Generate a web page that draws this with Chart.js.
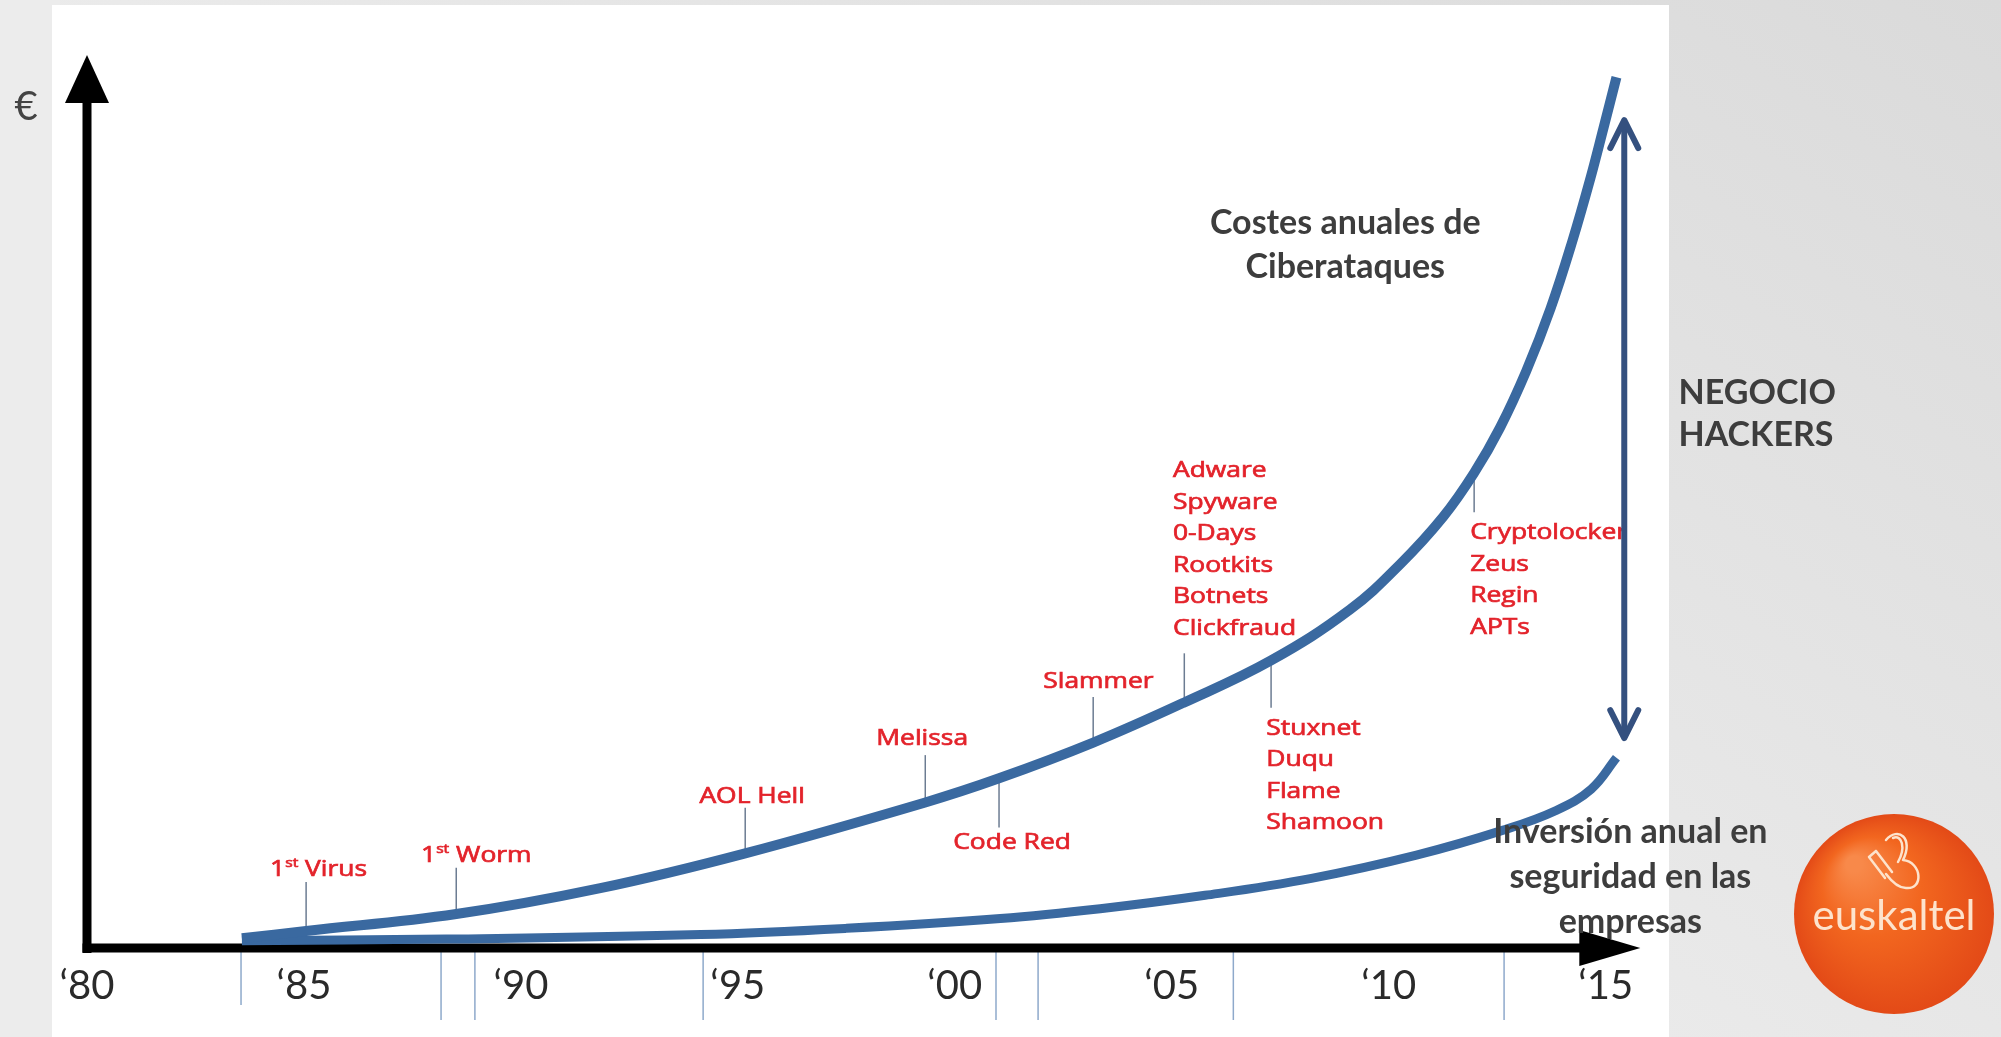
<!DOCTYPE html>
<html>
<head>
<meta charset="utf-8">
<script src="https://cdn.jsdelivr.net/npm/chart.js@4.4.1/dist/chart.umd.min.js"></script>
<style>
  html, body { margin: 0; padding: 0; background: #e8e8e8; }
  #wrap { width: 2001px; height: 1037px; }
</style>
</head>
<body>
<div id="wrap"><canvas id="chart" width="2001" height="1037"></canvas></div>
<script>
// x axis: years, tick labels
const tickYears = [1980, 1985, 1990, 1995, 2000, 2005, 2010, 2015];
const tickLabels = ['‘80', '‘85', '‘90', '‘95', '‘00', '‘05', '‘10', '‘15'];

// Costes anuales de Ciberataques (relative €)
const costYears = [1983.57, 1985.05, 1988.51, 1991.83, 1995.17, 1999.32, 2001.02, 2003.19, 2005.29, 2007.29,
  2009.11, 2010.27, 2011.26, 2011.97, 2012.57, 2013.17, 2013.73, 2014.23, 2014.65, 2014.95, 2015.25];
const costValues = [1.1, 1.9, 3.8, 6.7, 10.6, 16.3, 19.0, 23.0, 27.5, 32.2,
  37.9, 43.0, 48.3, 53.2, 58.3, 64.6, 71.6, 79.1, 86.2, 91.8, 97.5];

// Inversión anual en seguridad en las empresas (relative €)
const investYears = [1983.57, 1988.28, 1994.15, 1997.5, 2001.05, 2003.35, 2005.77, 2008.22, 2010.64, 2012.64, 2013.86, 2014.67, 2015.25];
const investValues = [0.8, 1.0, 1.5, 2.2, 3.3, 4.4, 5.9, 7.8, 10.4, 13.2, 15.4, 17.8, 21.3];

// hitos sobre la curva de costes
const eventYears = [1985.05, 1988.51, 1995.17, 1999.32, 2001.02, 2003.19, 2005.29, 2007.29, 2011.97];
const eventLabels = [
  ['1st Virus'], ['1st Worm'], ['AOL Hell'], ['Melissa'], ['Code Red'], ['Slammer'],
  ['Adware', 'Spyware', '0-Days', 'Rootkits', 'Botnets', 'Clickfraud'],
  ['Stuxnet', 'Duqu', 'Flame', 'Shamoon'],
  ['Cryptolocker', 'Zeus', 'Regin', 'APTs']
];

// thin marks under the time axis
const markYears = [1983.55, 1988.16, 1988.94, 1994.2, 2000.95, 2001.92, 2006.42, 2012.66];

// where each label sits (data units): leader from `from` to `to`, text anchor lx/ly
const eventLayout = [
  { from: 1.6, to: 7.4, lx: 1984.22, ly: 8.73, align: 'left' },
  { from: 3.3, to: 9.0, lx: 1987.70, ly: 10.3, align: 'left' },
  { from: 10.2, to: 15.7, lx: 1995.33, ly: 16.9, align: 'center' },
  { from: 15.9, to: 21.6, lx: 1999.25, ly: 23.4, align: 'center' },
  { from: 19.4, to: 13.5, lx: 2001.32, ly: 11.76, align: 'center' },
  { from: 22.6, to: 28.1, lx: 2003.31, ly: 29.8, align: 'center' },
  { from: 27.1, to: 33.0, lx: 2005.03, ly: 53.4, align: 'left' },
  { from: 32.6, to: 26.9, lx: 2007.18, ly: 24.6, align: 'left' },
  { from: 53.6, to: 48.8, lx: 2011.88, ly: 46.5, align: 'left' }
];

const axisEnd = 2015.8;
const gapArrow = { year: 2015.43, top: 92.7, bottom: 23.5 };

const curveColor = '#3a69a0';
const redColor = '#e3232b';
const greyText = '#3d3d3d';
const redFont = '22px "Open Sans"';
const supFont = '13px "Open Sans"';

function drawRed(ctx, text, x, y, align) {
  ctx.save();
  ctx.fillStyle = redColor;
  ctx.strokeStyle = redColor;
  ctx.lineWidth = 0.7;
  ctx.textBaseline = 'middle';
  ctx.translate(x, y);
  ctx.scale(1.2, 1);
  let parts;
  if (text.startsWith('1st ')) {
    parts = [['1', 0], ['st', 1], [text.slice(3), 0]];
  } else {
    parts = [[text, 0]];
  }
  const widthOf = (p) => {
    ctx.font = p[1] ? supFont : redFont;
    return ctx.measureText(p[0]).width;
  };
  const total = parts.reduce((s, p) => s + widthOf(p), 0);
  let cx = align === 'center' ? -total / 2 : 0;
  ctx.textAlign = 'left';
  parts.forEach(p => {
    ctx.font = p[1] ? supFont : redFont;
    ctx.fillText(p[0], cx, p[1] ? -7 : 0);
    ctx.strokeText(p[0], cx, p[1] ? -7 : 0);
    cx += ctx.measureText(p[0]).width;
  });
  ctx.restore();
}

const slidePlugin = {
  id: 'slide',
  beforeDraw(chart) {
    const ctx = chart.ctx;
    const W = chart.width, H = chart.height;
    ctx.save();
    const g = ctx.createLinearGradient(W, 0, W - 700, H);
    g.addColorStop(0, '#dadada');
    g.addColorStop(1, '#ededed');
    ctx.fillStyle = g;
    ctx.fillRect(0, 0, W, H);
    ctx.fillStyle = '#ececec';
    ctx.fillRect(0, 0, 60, H);
    ctx.fillStyle = '#ffffff';
    ctx.fillRect(52, 5, 1617, H - 5);
    ctx.restore();
  },
  beforeDatasetsDraw(chart) {
    const ctx = chart.ctx;
    const a = chart.chartArea;
    const xs = chart.scales.x, ys = chart.scales.y;
    ctx.save();
    // marks below the axis
    ctx.strokeStyle = '#8ea9cb';
    ctx.lineWidth = 1.5;
    markYears.forEach((yr, i) => {
      const x = xs.getPixelForValue(yr);
      ctx.beginPath();
      ctx.moveTo(x, a.bottom + 4);
      ctx.lineTo(x, i === 0 ? a.bottom + 57 : a.bottom + 72);
      ctx.stroke();
    });
    // leader lines
    ctx.strokeStyle = '#6c7c92';
    ctx.lineWidth = 1.5;
    eventYears.forEach((yr, i) => {
      const x = xs.getPixelForValue(yr);
      ctx.beginPath();
      ctx.moveTo(x, ys.getPixelForValue(eventLayout[i].from));
      ctx.lineTo(x, ys.getPixelForValue(eventLayout[i].to));
      ctx.stroke();
    });
    // axes with arrow heads
    ctx.fillStyle = '#000';
    ctx.fillRect(a.left - 4.5, a.top + 40, 9, a.bottom - a.top - 35);
    ctx.beginPath();
    ctx.moveTo(a.left, a.top);
    ctx.lineTo(a.left - 22, a.top + 48);
    ctx.lineTo(a.left + 22, a.top + 48);
    ctx.closePath();
    ctx.fill();
    const tip = xs.getPixelForValue(axisEnd);
    ctx.fillRect(a.left - 4.5, a.bottom - 4.5, tip - 55 - a.left, 9);
    ctx.beginPath();
    ctx.moveTo(tip, a.bottom);
    ctx.lineTo(tip - 61, a.bottom - 18);
    ctx.lineTo(tip - 61, a.bottom + 18);
    ctx.closePath();
    ctx.fill();
    ctx.restore();
  },
  afterDatasetsDraw(chart) {
    const ctx = chart.ctx;
    const a = chart.chartArea;
    const xs = chart.scales.x, ys = chart.scales.y;
    const px = (yr) => xs.getPixelForValue(yr);
    const py = (v) => ys.getPixelForValue(v);
    ctx.save();

    // red event labels
    eventLabels.forEach((lines, i) => {
      const L = eventLayout[i];
      lines.forEach((t, j) => drawRed(ctx, t, px(L.lx), py(L.ly) + j * 31.5, L.align));
    });

    // NEGOCIO HACKERS double arrow
    const ax = px(gapArrow.year), y1 = py(gapArrow.top), y2 = py(gapArrow.bottom);
    ctx.strokeStyle = '#34507f';
    ctx.lineWidth = 6;
    ctx.lineCap = 'round';
    ctx.lineJoin = 'round';
    ctx.beginPath();
    ctx.moveTo(ax, y1 + 2);
    ctx.lineTo(ax, y2 - 2);
    ctx.stroke();
    ctx.beginPath();
    ctx.moveTo(ax - 14, y1 + 28);
    ctx.lineTo(ax, y1);
    ctx.lineTo(ax + 14, y1 + 28);
    ctx.moveTo(ax - 14, y2 - 28);
    ctx.lineTo(ax, y2);
    ctx.lineTo(ax + 14, y2 - 28);
    ctx.stroke();

    // grey texts
    ctx.fillStyle = greyText;
    ctx.font = 'bold 34px Lato';
    ctx.textBaseline = 'middle';
    ctx.textAlign = 'center';
    ctx.fillText('Costes anuales de', px(2009.0), py(81.2));
    ctx.fillText('Ciberataques', px(2009.0), py(81.2) + 44);
    ctx.fillText('Inversión anual en', px(2015.57), py(13.0));
    ctx.fillText('seguridad en las', px(2015.57), py(13.0) + 45);
    ctx.fillText('empresas', px(2015.57), py(13.0) + 90);
    ctx.textAlign = 'left';
    ctx.fillText('NEGOCIO', px(2016.68), py(62.15));
    ctx.fillText('HACKERS', px(2016.68), py(62.15) + 42);

    // euro sign next to the value axis
    ctx.font = '40px Lato';
    ctx.fillStyle = '#444';
    ctx.textAlign = 'center';
    ctx.fillText('€', a.left - 61, a.top + 52);

    // euskaltel logo
    const cx = 1894, cy = 914, r = 100;
    const rg = ctx.createRadialGradient(cx - 40, cy - 50, 8, cx, cy, r);
    rg.addColorStop(0, '#f8894a');
    rg.addColorStop(0.45, '#f2661f');
    rg.addColorStop(1, '#e34a17');
    ctx.fillStyle = rg;
    ctx.beginPath();
    ctx.arc(cx, cy, r, 0, Math.PI * 2);
    ctx.fill();
    ctx.fillStyle = '#fde3cc';
    ctx.font = '42px Lato';
    ctx.textAlign = 'center';
    ctx.fillText('euskaltel', cx, cy + 2);
    ctx.strokeStyle = '#fde3cc';
    ctx.lineWidth = 2.5;
    ctx.beginPath();
    ctx.moveTo(1886, 840);
    ctx.bezierCurveTo(1898, 826, 1914, 838, 1903, 860);
    ctx.bezierCurveTo(1922, 862, 1924, 890, 1906, 888);
    ctx.bezierCurveTo(1898, 888, 1892, 882, 1886, 874);
    ctx.moveTo(1893, 838);
    ctx.bezierCurveTo(1902, 834, 1906, 848, 1898, 862);
    ctx.moveTo(1869, 857);
    ctx.lineTo(1885, 878);
    ctx.moveTo(1876, 851);
    ctx.lineTo(1892, 872);
    ctx.moveTo(1869, 857);
    ctx.lineTo(1876, 851);
    ctx.stroke();

    ctx.restore();
  }
};

const ctx = document.getElementById('chart').getContext('2d');
const chart = new Chart(ctx, {
  type: 'line',
  data: {
    datasets: [
      {
        label: 'Costes anuales de Ciberataques',
        data: costYears.map((x, i) => ({ x: x, y: costValues[i] })),
        borderColor: curveColor,
        borderWidth: 10,
        borderCapStyle: 'butt',
        pointRadius: 0,
        fill: false,
        tension: 0.4
      },
      {
        label: 'Inversión anual en seguridad en las empresas',
        data: investYears.map((x, i) => ({ x: x, y: investValues[i] })),
        borderColor: curveColor,
        borderWidth: 9,
        borderCapStyle: 'butt',
        pointRadius: 0,
        fill: false,
        tension: 0.4
      }
    ]
  },
  options: {
    responsive: false,
    animation: false,
    devicePixelRatio: 1,
    layout: {
      padding: { left: 87, right: 352, top: 55, bottom: 29 }
    },
    plugins: {
      legend: { display: false },
      tooltip: { enabled: false }
    },
    scales: {
      x: {
        type: 'linear',
        min: 1980,
        max: 2016,
        grid: { display: false, drawTicks: false },
        border: { display: false },
        afterBuildTicks: (s) => { s.ticks = tickYears.map(v => ({ value: v })); },
        afterFit: (s) => { s.height = 60; },
        ticks: {
          autoSkip: false,
          maxRotation: 0,
          padding: 14,
          color: '#2a2a2a',
          font: { family: 'Lato', size: 40 },
          callback: (v, i) => tickLabels[i]
        }
      },
      y: {
        display: false,
        min: 0,
        max: 100
      }
    }
  },
  plugins: [slidePlugin]
});
</script>
</body>
</html>
